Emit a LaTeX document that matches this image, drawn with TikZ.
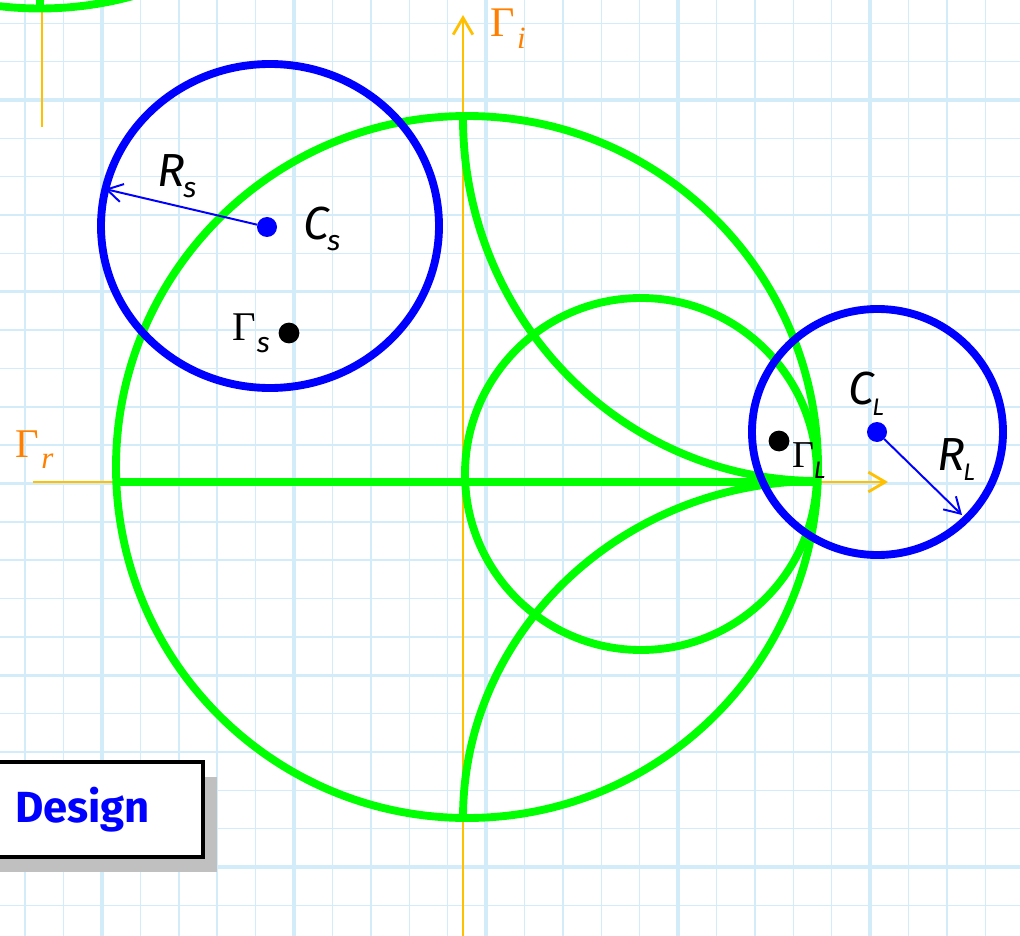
\documentclass[tikz,border=0pt]{standalone}
\usepackage{fontspec}
\usepackage{tikz}
\usetikzlibrary{arrows.meta,shadows}
\newfontfamily\comicish{Fira Sans}
\newfontfamily\timesish{Liberation Serif}
\definecolor{gridline}{HTML}{D2ECFA}
\definecolor{chartgreen}{HTML}{00FF00}
\definecolor{circblue}{HTML}{0000FF}
\definecolor{axisgold}{HTML}{FFC000}
\definecolor{axislabel}{HTML}{FF7F00}
\definecolor{shade}{HTML}{C0C0C0}
% big handwritten letter with a lowered subscript
\newcommand{\hlab}[3]{{\fontsize{33}{33}\selectfont\comicish\itshape #1}\kern-1pt\raisebox{-7.5pt}{\fontsize{#3}{#3}\selectfont\comicish\itshape #2}}

\begin{document}
\begin{tikzpicture}[
  x=0.25mm, y=-0.25mm,
  every node/.style={inner sep=0pt, outer sep=0pt},
  gridminor/.style={draw=gridline, line width=1pt},
  gridmajor/.style={draw=gridline, line width=2.4pt},
  axisline/.style={draw=axisgold, line width=2pt, -{Straight Barb[length=12pt, width=14pt]}},
  chart/.style={draw=chartgreen, line width=5.6pt},
  ring/.style={draw=circblue, line width=5.6pt},
  rarr/.style={draw=circblue, line width=1.4pt, -{Straight Barb[length=11pt, width=13pt]}},
  bdot/.style={circle, fill=circblue, minimum size=5mm},
  kdot/.style={circle, fill=black, minimum size=5.2mm},
  lbl/.style={anchor=base west},
  designbox/.style={draw=black, line width=3.5pt, fill=white, minimum width=60.25mm, minimum height=23.75mm,
    drop shadow={shadow xshift=3.5mm, shadow yshift=-3.75mm, fill=shade, opacity=1},
    font=\fontsize{31}{31}\selectfont\comicish\bfseries, text=circblue}
]
\useasboundingbox (0,0) rectangle (1020,936);
\clip (0,0) rectangle (1020,936);

% graph paper
\foreach \k in {0,...,25}
  \draw[gridminor] ({25.2+38.4*\k},0) -- ++(0,936);
\foreach \k in {0,...,23}
  \draw[gridminor] (0,{23.3+38.35*\k}) -- ++(1020,0);
\foreach \k in {0,...,4} {
  \draw[gridmajor] ({102+192*\k},0) -- ++(0,936);
  \draw[gridmajor] (0,{100+191.75*\k}) -- ++(1020,0);
}

% piece of the previous chart, top left
\draw[axisgold, line width=2pt] (42,0) -- (42,127);
\draw[chart] (40,-342.5) circle[radius=351];
\draw[chart] (40,8.5) arc[start angle=180, end angle=260, x radius=355, y radius=351];

% axes
\coordinate (xstart) at (33,482);
\coordinate (xtip) at (888,482);
\coordinate (ystart) at (463,936);
\coordinate (ytip) at (463,15);
\draw[axisline] (xstart) -- (xtip);
\draw[axisline] (ystart) -- (ytip);
\node[lbl, text=axislabel] (gr) at (15,457)
  {{\fontsize{29}{29}\selectfont\timesish Γ}\kern2pt\raisebox{-8pt}{\fontsize{22}{22}\selectfont\timesish\itshape r}};
\node[lbl, text=axislabel] (gi) at (490,37)
  {{\fontsize{30}{30}\selectfont\timesish Γ}\kern2pt\raisebox{-8pt}{\fontsize{22}{22}\selectfont\timesish\itshape i}};

% smith chart
\draw[chart] (467,467) circle[radius=351];
\draw[chart] (641,474) circle[radius=176];
\draw[chart] (116,482) -- (818,482);
\draw[chart] (463,118) arc[start angle=180, end angle=90, x radius=355, y radius=363];
\draw[chart] (463,818) arc[start angle=180, end angle=270, x radius=355, y radius=337];

% source and load circles
\draw[ring] (270,226) ellipse[x radius=169, y radius=162];
\draw[ring] (877.5,432) ellipse[x radius=125.5, y radius=123];

\node[bdot] (cs) at (267,227) {};
\node[bdot] (cl) at (877,432) {};
\coordinate (rsend) at (105,189);
\coordinate (rlend) at (962,515);
\draw[rarr] (cs) -- (rsend);
\draw[rarr] (cl) -- (rlend);

\node[kdot] (gs) at (289,333) {};
\node[kdot] (gl) at (779,441) {};

% labels
\node[lbl] (cslbl) at (303,240) {\hlab{C}{s}{20}};
\node[lbl] (rslbl) at (157,187) {\hlab{R}{s}{20}};
\node[lbl] (cllbl) at (848,405) {\hlab{C}{L}{17}};
\node[lbl] (rllbl) at (937,470) {\hlab{R}{L}{17}};
\node[lbl] (gslbl) at (232,341)
  {{\fontsize{29}{29}\selectfont\timesish Γ}\kern1pt\raisebox{-8pt}{\fontsize{20}{20}\selectfont\comicish\itshape s}};
\node[lbl] (gllbl) at (792,467)
  {{\fontsize{27}{27}\selectfont\timesish Γ}\raisebox{-8pt}{\fontsize{17}{17}\selectfont\comicish\itshape L}};

\node[designbox] (design) at (82.5,809.5) {Design};
\end{tikzpicture}
\end{document}
